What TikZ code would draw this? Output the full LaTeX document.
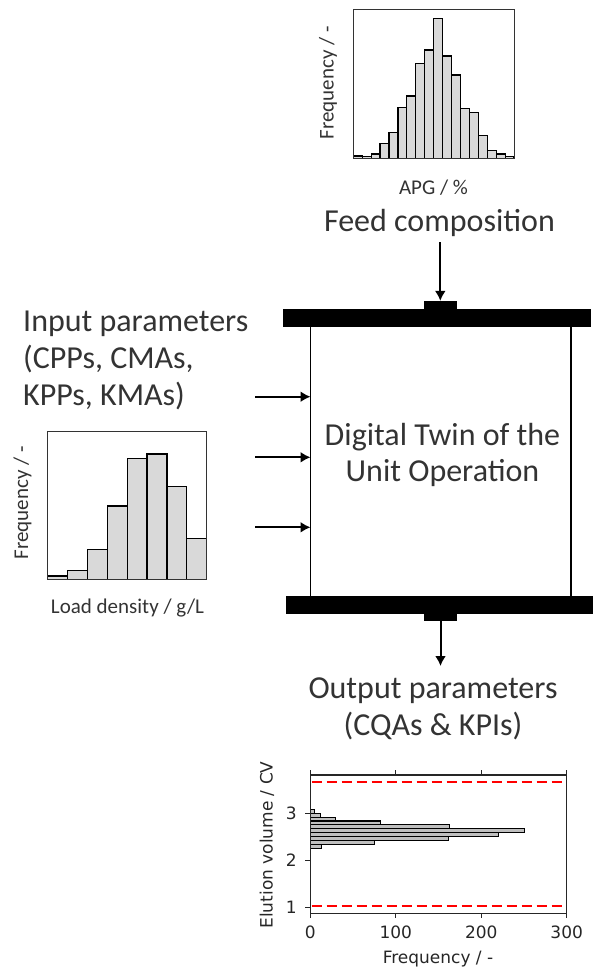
\documentclass[tikz,border=0pt]{standalone}
\usepackage{fontspec}
\setmainfont{Carlito}
\newfontfamily\plotfont{DejaVu Sans}
\usetikzlibrary{arrows.meta}

\tikzset{
  biglabel/.style={font=\fontsize{32}{36.7}\selectfont, text=black!80, inner sep=0pt, align=left},
  smalllabel/.style={font=\fontsize{21}{24}\selectfont, text=black!80, inner sep=0pt},
  plotlabel/.style={font=\plotfont\fontsize{17}{20}\selectfont, text=black!85, inner sep=0pt},
  plate/.style={fill=black, draw=none, inner sep=0pt},
  wall/.style={line width=1.4pt, black},
  arr/.style={line width=2pt, -{Latex[length=10pt,width=11pt]}},
  histbar/.style={fill=black!15, draw=black, line width=1.2pt},
  histframe/.style={draw=black!80, line width=1pt, inner sep=0pt},
  hbar/.style={fill=black!25, draw=black, line width=1.1pt},
  axisline/.style={draw=black!85, line width=1.2pt},
  limitline/.style={red, line width=2.2pt, dash pattern=on 10pt off 5pt},
}

\begin{document}
\begin{tikzpicture}[x=1pt,y=-1pt]
\useasboundingbox (0,0) rectangle (593,974);

% ---------- feed composition histogram ----------
\foreach \h [count=\i from 0] in {2.3,2,4.3,15,26,50.7,62.3,95,108.3,140,102.3,83.3,50,46,22.7,7.7,4.3,1.7}
  \draw[histbar] ({353.3+\i*8.93},158.3) rectangle ++(8.93,-\h);
\node[histframe, minimum width=160.7pt, minimum height=148.3pt] (hfeed) at (433.65,84.15) {};
\node[smalllabel, rotate=90] (hfeedy) at (328,83) {Frequency / -};
\node[smalllabel] (hfeedx) at (433.5,188) {APG / \%};

\node[biglabel, anchor=base] (feed) at (439.5,231) {Feed composition};
\coordinate (feedtail) at (440.3,242);

% ---------- column ----------
\node[plate, minimum width=308pt, minimum height=17.7pt] (topplate) at (436.7,318.2) {};
\node[plate, minimum width=32.7pt, minimum height=8.5pt] (topcap) at (440.3,305.3) {};
\node[plate, minimum width=307pt, minimum height=18pt] (botplate) at (439.5,605) {};
\node[plate, minimum width=33pt, minimum height=7.5pt] (botcap) at (440.5,617.5) {};
\node[inner sep=0pt, minimum width=260pt, minimum height=269pt] (col) at (440.7,461.5) {};
\draw[wall] (col.north west) -- (col.south west);
\draw[wall] (col.north east) -- (col.south east);
% multi-line nodes: the base anchor sits on the last line
\node[biglabel, align=center, anchor=base] (twin) at (442.5,481.7) {Digital Twin of the\\Unit Operation};

\draw[arr] (feedtail) -- (topcap.north);

% ---------- input parameters ----------
\node[biglabel, anchor=base west] (inputs) at (23,405) {Input parameters\\(CPPs, CMAs,\\KPPs, KMAs)};
\coordinate (in1) at (255,396.7);
\coordinate (in2) at (255,457.3);
\coordinate (in3) at (255,527.3);
\foreach \c in {in1,in2,in3}
  \draw[arr] (\c) -- (\c -| col.west);

% ---------- load density histogram ----------
\foreach \h [count=\i from 0] in {3.3,8.7,30,73.3,121,125.3,92.7,41}
  \draw[histbar] ({47.7+\i*19.875},579.3) rectangle ++(19.875,-\h);
\node[histframe, minimum width=159pt, minimum height=147.6pt] (hload) at (127.2,505.5) {};
\node[smalllabel, rotate=90] (hloady) at (22.5,503) {Frequency / -};
\node[smalllabel] (hloadx) at (127.5,608) {Load density / g/L};

% ---------- output parameters ----------
\coordinate (outtip) at (440.5,666);
\draw[arr] (botcap.south) -- (outtip);
\node[biglabel, align=center, anchor=base] (outputs) at (433,735) {Output parameters\\(CQAs \& KPIs)};

% ---------- elution volume histogram ----------
% x: 0..300 -> 310.3..566.7 ; y: value v -> 907.7-(v-1)*47.3
\foreach \w [count=\i from 0] in {13,75,162,220,251,163,82,30,12,5}
  \draw[hbar] (310.3,{907.7-(1.25+\i*0.08333)*47.3}) rectangle ({310.3+\w*0.8547},{907.7-(1.25+(\i+1)*0.08333)*47.3});
\draw[limitline] (311.5,782.3) -- (565.5,782.3);
\draw[limitline] (311.5,905.7) -- (565.5,905.7);
\node[axisline, inner sep=0pt, minimum width=256.4pt, minimum height=138.3pt] (elax) at (438.5,844.15) {};
\foreach \v [count=\i from 0] in {0,100,200,300} {
  \draw[axisline] ({310.3+\v*0.8547},913.3) -- ++(0,5);
  \draw[axisline] ({310.3+\v*0.8547},775) -- ++(0,-5);
  \node[plotlabel] (xt\i) at ({310.3+\v*0.8547},932.7) {\v};
}
\foreach \v in {1,2,3} {
  \draw[axisline] (310.3,{907.7-(\v-1)*47.3}) -- ++(-5,0);
  \node[plotlabel, anchor=east] (yt\v) at (297,{907.7-(\v-1)*47.3}) {\v};
}
\node[plotlabel] (elx) at (438,959) {Frequency / -};
\node[plotlabel, rotate=90] (ely) at (267,845) {Elution volume / CV};
\end{tikzpicture}
\end{document}
